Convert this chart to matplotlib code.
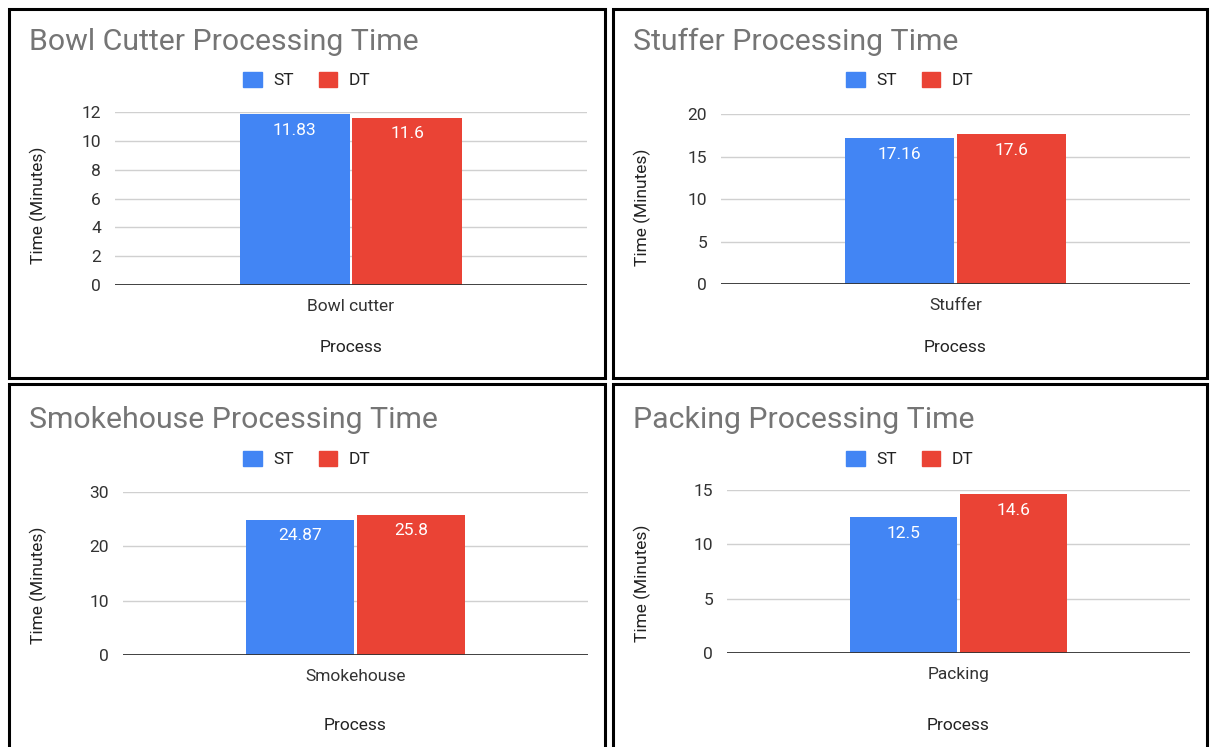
import matplotlib
matplotlib.use("Agg")
import matplotlib.pyplot as plt
from matplotlib.patches import Patch, Rectangle

plt.rcParams['font.family'] = ['Roboto', 'DejaVu Sans']

# data
titles = ["Bowl Cutter Processing Time", "Stuffer Processing Time",
          "Smokehouse Processing Time", "Packing Processing Time"]
processes = ["Bowl cutter", "Stuffer", "Smokehouse", "Packing"]
series = ["ST", "DT"]
st_times = [11.83, 17.16, 24.87, 12.5]
dt_times = [11.6, 17.6, 25.8, 14.6]
y_ticks = [[0, 2, 4, 6, 8, 10, 12], [0, 5, 10, 15, 20],
           [0, 10, 20, 30], [0, 5, 10, 15]]

BLUE, RED = "#4285F4", "#EA4335"
W, H = 1210, 747

# pixel layout: panel border box, plot box (x0, y0, x1, y1)
borders = [(9, 9, 605, 378), (613, 9, 1207, 378),
           (9, 384, 605, 760), (613, 384, 1207, 760)]
plots = [(115, 112, 587, 285), (721, 114, 1190, 284),
         (123, 492, 588, 655), (727, 490, 1190, 653)]
# vertical offsets from panel top: title, legend, "Process"
offs = [(33, 71, 339), (33, 71, 339), (36, 75, 341), (36, 75, 341)]


def fx(x): return x / W
def fy(y): return 1 - y / H


fig = plt.figure(figsize=(W / 100, H / 100), dpi=100)

for i in range(4):
    bx0, by0, bx1, by1 = borders[i]
    t_off, l_off, p_off = offs[i]
    fig.add_artist(Rectangle((fx(bx0), fy(by1)), fx(bx1 - bx0), (by1 - by0) / H,
                             transform=fig.transFigure, fill=False,
                             edgecolor="black", lw=2.2))
    px0, py0, px1, py1 = plots[i]
    ax = fig.add_axes([fx(px0), fy(py1), fx(px1 - px0), (py1 - py0) / H])
    w = 0.232
    b1 = ax.bar([-0.119], [st_times[i]], w, color=BLUE, zorder=3)
    b2 = ax.bar([0.119], [dt_times[i]], w, color=RED, zorder=3)
    for bars, vals in ((b1, st_times), (b2, dt_times)):
        r = bars[0]
        ax.annotate(f"{vals[i]:g}", (r.get_x() + r.get_width() / 2, r.get_height()),
                    xytext=(0, -16), textcoords="offset pixels",
                    ha="center", va="center", color="white", fontsize=12.5, zorder=4)
    ax.set_xlim(-0.5, 0.5)
    ax.set_ylim(0, y_ticks[i][-1])
    ax.set_yticks(y_ticks[i])
    ax.set_xticks([0])
    ax.set_xticklabels([processes[i]])
    ax.tick_params(length=0, labelsize=12.5, labelcolor="#333333")
    ax.tick_params(axis="y", pad=10)
    ax.tick_params(axis="x", pad=10)
    ax.grid(axis="y", color="#d0d0d0", lw=1, zorder=0)
    ax.set_axisbelow(True)
    for s in ax.spines.values():
        s.set_visible(False)
    ax.axhline(0, color="#333333", lw=1.3, zorder=5)

    # title, axis titles
    fig.text(fx(bx0 + 20), fy(by0 + t_off), titles[i], fontsize=21.8, color="#757575",
             ha="left", va="center")
    cx = (px0 + px1) / 2
    fig.text(fx(cx), fy(by0 + p_off), "Process", fontsize=12.5, color="#222222",
             ha="center", va="center")
    fig.text(fx(bx0 + 29), fy(py0 + 93), "Time (Minutes)", fontsize=12.5,
             color="#222222", rotation=90, ha="center", va="center")

    handles = [Patch(color=BLUE, label=series[0]), Patch(color=RED, label=series[1])]
    fig.legend(handles=handles, loc="center", ncol=2, frameon=False,
               bbox_to_anchor=(fx((bx0 + bx1) / 2), fy(by0 + l_off)),
               bbox_transform=fig.transFigure, fontsize=12.5,
               handlelength=1.05, handleheight=1.0, handletextpad=0.7,
               columnspacing=1.4, labelcolor="#222222")

fig.savefig("out.png", dpi=100)
